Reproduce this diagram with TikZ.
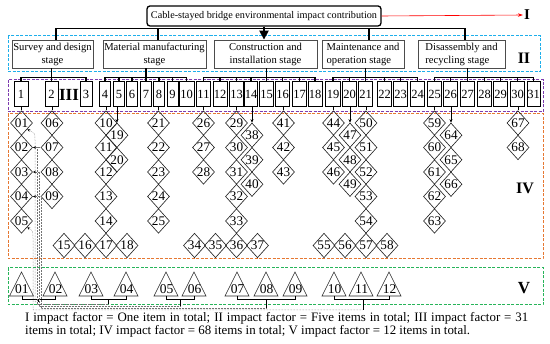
\documentclass[tikz,border=0pt]{standalone}
\usepackage{fontspec}
\setmainfont{Liberation Serif}
\usetikzlibrary{shapes.geometric,arrows.meta}
\definecolor{cyanb}{RGB}{30,175,235}
\definecolor{purpb}{RGB}{125,60,175}
\definecolor{orab}{RGB}{230,120,50}
\definecolor{greb}{RGB}{40,180,90}
\begin{document}
\begin{tikzpicture}[x=1pt,y=-1pt,
  topbox/.style={draw,rounded corners=3pt,line width=1.3pt,inner sep=1pt,minimum width=234pt,minimum height=20pt,font=\fontsize{10.2}{12}\selectfont},
  stagebox/.style={draw=black!70,line width=0.8pt,minimum height=28pt,inner sep=1pt,font=\fontsize{10.6}{13}\selectfont},
  itembox/.style={draw,line width=1pt,minimum height=25pt,inner sep=0pt,font=\fontsize{12.5}{12.5}\selectfont},
  dia/.style={diamond,draw=black!85,line width=0.65pt,minimum width=21pt,minimum height=24.5pt,inner sep=0pt,font=\fontsize{13.2}{13.2}\selectfont},
  trilab/.style={inner sep=0pt,font=\fontsize{13.5}{13.5}\selectfont},
  tri/.style={draw=black!85,line width=0.65pt,line join=miter},
  lvl/.style={inner sep=0pt,font=\fontsize{16}{16}\selectfont\bfseries},
  frame/.style={dash pattern=on 3pt off 1.5pt,line width=1pt},
  conn/.style={line width=1.8pt},
  brk/.style={line width=1pt},
  dotl/.style={black!55,densely dotted,line width=0.5pt},
  dottip/.style={{Stealth[length=3pt,width=2.6pt,color=black]}-},
]
\useasboundingbox (0,0) rectangle (550,344);
% frames
\draw[frame,cyanb] (8,36) rectangle (540,72);
\draw[frame,purpb] (8,80) rectangle (543,112);
\draw[frame,orab] (8,114) rectangle (543,259);
\draw[frame,greb] (8,268) rectangle (543,305);
% level I
\node[topbox] (top) at (264,16) {Cable-stayed bridge environmental impact contribution};
\node[lvl,font=\fontsize{15}{15}\selectfont\bfseries] (L1) at (527,15) {I};
\draw[red,line width=0.6pt,-{Stealth[length=5pt,width=3.5pt]},shorten >=1pt] (top.east) -- (L1.west);
% level II
\node[stagebox,minimum width=81pt,align=center] (s1) at (52.5,54) {Survey and design\\stage};
\node[stagebox,minimum width=103pt,align=center] (s2) at (154.5,54) {Material manufacturing\\stage};
\node[stagebox,minimum width=103pt,align=center] (s3) at (265.5,54) {Construction and\\installation stage};
\node[stagebox,minimum width=82pt,align=left] (s4) at (363,54) {Maintenance and\\operation stage};
\node[stagebox,minimum width=87pt,align=left] (s5) at (461.5,54) {Disassembly and\\recycling stage};
\node[lvl] (L2) at (524,58) {II};
\draw[conn] ([xshift=3.5pt]s1.north) -- ++(0,-11) -| ([xshift=3.5pt]s5.north);
\draw[conn] ([xshift=3.5pt]s2.north) -- ++(0,-11);
\draw[conn] ([xshift=6pt]s4.north) -- ++(0,-11);
\draw[line width=2.5pt,-{Triangle[length=9pt,width=9pt]}] (top.south) -- (top.south |- s3.north);
% level III
\foreach \n/\px/\w in {1/21/14,2/51.5/13,3/86/12,4/105/11,5/119/11,6/132/11,7/146/11.5,8/159/10.5,9/172.5/11,10/186.5/15,11/203.5/14,12/220/14,13/236.5/14,14/251/13.5,15/266.5/14,16/282.5/14.5,17/299.5/14.5,18/315/14,19/333/14.5,20/349.5/14.5,21/365.5/14.5,22/384.5/14.5,23/400.5/14.5,24/417.5/14.5,25/434.5/14.5,26/450.5/14.5,27/467.5/14.5,28/484.5/14.5,29/500.5/14.5,30/517.5/14.5,31/533.5/13}
  \node[itembox,minimum width=\w pt] (i\n) at (\px,94.5) {\n};
\node[lvl,font=\fontsize{17}{17}\selectfont\bfseries] (L3) at (69,95) {III};
\foreach \s/\m/\a/\b in {1/2/1/3,2/7/4/10,3/15/11/18,4/21/19/24,5/27/25/31}{
  \draw[conn] (i\m.north |- s\s.south) -- (i\m.north);
  \draw[conn] (i\a.north) -- ++(0,-4) -| (i\b.north);
  \foreach \k in {\a,...,\b} \draw[conn] (i\k.north) -- ++(0,-4);
}
% level IV
\foreach \n/\px/\py in {01/21.5/123,02/21.5/147.5,03/21.5/172,04/21.5/196.5,05/21.5/221,
 06/52/123,07/52/147.5,08/52/172,09/52/196.5,
 10/106/123,11/106/147.5,12/106/172,13/106/196.5,14/106/221,
 15/64/245.5,16/85/245.5,17/106/245.5,18/127/245.5,
 19/117/135.25,20/117/159.75,
 21/158.5/123,22/158.5/147.5,23/158.5/172,24/158.5/196.5,25/158.5/221,
 26/203.5/123,27/203.5/147.5,28/203.5/172,
 29/236.5/123,30/236.5/147.5,31/236.5/172,32/236.5/196.5,33/236.5/221,
 34/194.5/245.5,35/215.5/245.5,36/236.5/245.5,37/257.5/245.5,
 38/252/135.25,39/252/159.75,40/252/184.25,
 41/283.5/123,42/283.5/147.5,43/283.5/172,
 44/333.5/123,45/333.5/147.5,46/333.5/172,
 47/350/135.25,48/350/159.75,49/350/184.25,
 50/366/123,51/366/147.5,52/366/172,53/366/196.5,54/366/221,
 55/324/245.5,56/345/245.5,57/366/245.5,58/387/245.5,
 59/434.5/123,60/434.5/147.5,61/434.5/172,62/434.5/196.5,63/434.5/221,
 64/451/135.25,65/451/159.75,66/451/184.25,
 67/518/123,68/518/147.5}
  \node[dia] (d\n) at (\px,\py) {\n};
\node[lvl] (L4) at (525,188) {IV};
\foreach \i/\d in {1/01,2/06,4/10,8/21,11/26,13/29,16/41,19/44,21/50,25/59,30/67}
  \draw[line width=0.6pt] (d\d.north |- i\i.south) -- (d\d.north);
\foreach \i/\d in {5/19,14/38,20/47,26/64}
  \draw[line width=0.6pt,-{Stealth[length=3.5pt,width=3pt]}] (d\d.north |- i\i.south) -- (d\d.north);
% level V
\foreach \n/\px in {01/21.5,02/55,03/91,04/126,05/166,06/194,07/237,08/266,09/295,10/334,11/361,12/389}{
  \node[trilab] (v\n) at (\px+0.5,289) {\n};
  \draw[tri] (\px-12,296) -- (\px,272) -- (\px+12,296) -- cycle;
}
\node[lvl,font=\fontsize{17}{17}\selectfont\bfseries] (L5) at (524,288) {V};
\coordinate (tb) at (0,296);
\coordinate (by) at (0,299.5);
\coordinate (k1) at (38,302);
\coordinate (k2) at (108,304);
\coordinate (k3) at (180,306);
\coordinate (k4) at (266,308);
\coordinate (k5) at (363,310);
\draw[brk] (v01 |- tb) -- (v01 |- by) -- (v02 |- by) -- (v02 |- tb);
\draw[brk] (v03 |- tb) -- (v03 |- by) -- (v04 |- by) -- (v04 |- tb);
\draw[brk] (v05 |- tb) -- (v05 |- by) -- (v06 |- by) -- (v06 |- tb);
\draw[brk] (v07 |- tb) -- (v07 |- by) -- (v09 |- by) -- (v09 |- tb);
\draw[brk] (v10 |- tb) -- (v10 |- by) -- (v12 |- by) -- (v12 |- tb);
\foreach \k in {1,...,5} \draw[brk] (k\k |- by) -- (k\k);
% dotted links
\coordinate (c1) at (35,140); \coordinate (cc1) at (35,133);
\coordinate (c5) at (33,238); \coordinate (cc5) at (33,231);
\coordinate (c2) at (37,147.5);
\coordinate (c3) at (39,172);
\coordinate (c4) at (41,196.5);
\draw[dotl,dottip] (d01.south east) .. controls (cc1) .. (c1) |- (k1);
\draw[dotl,dottip] (d05.south east) .. controls (cc5) .. (c5) |- (k5);
\draw[dotl,dottip] (d02.east) -- (d07.west);
\draw[dotl,dottip] (d03.east) -- (d08.west);
\draw[dotl,dottip] (d04.east) -- (d09.west);
\draw[dotl] (c2) |- (k2);
\draw[dotl] (c3) |- (k3);
\draw[dotl] (c4) |- (k4);
% caption
\node[anchor=north west,inner sep=0pt,text width=503pt,align=justify,font=\fontsize{12.9}{11.5}\selectfont] (cap) at (25,312) {I impact factor = One item in total; II impact factor = Five items in total; III impact factor = 31\linebreak items in total; IV impact factor = 68 items in total; V impact factor = 12 items in total.};
\end{tikzpicture}
\end{document}
